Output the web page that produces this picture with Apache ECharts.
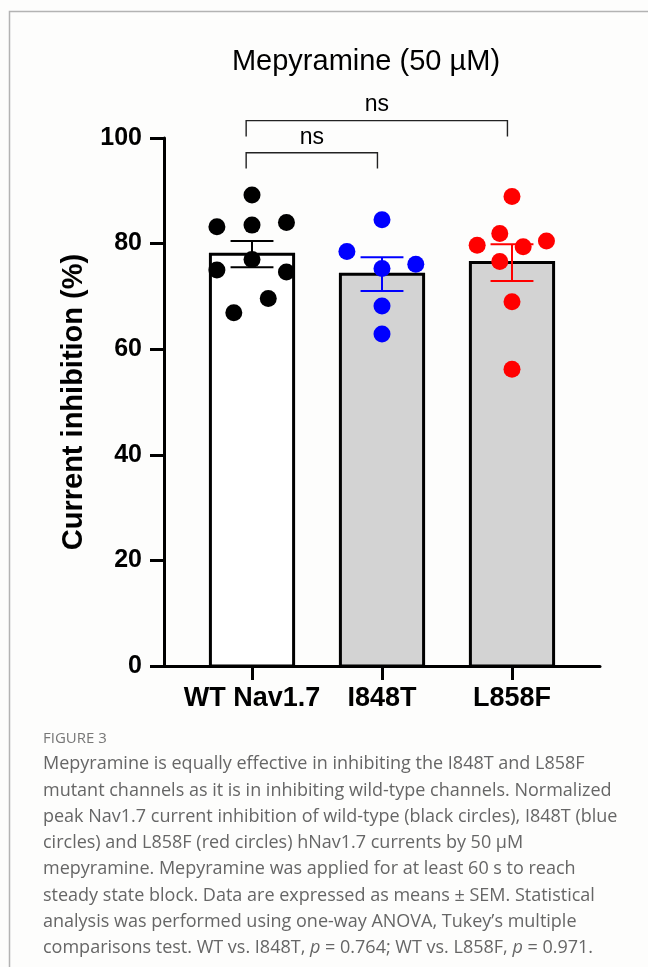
<!DOCTYPE html>
<html><head><meta charset="utf-8">
<script src="https://cdn.jsdelivr.net/npm/echarts@6/dist/echarts.min.js"></script>
<style>html,body{margin:0;padding:0;background:#fdfdfc;} #c{width:648px;height:967px;}</style>
</head><body><div id="c"></div>
<script>
// ---- data ----
const categories = ['WT Nav1.7', 'I848T', 'L858F'];
const means = [78.0, 74.2, 76.4];
const sems = [2.5, 3.2, 3.5];
const wtValues = [89.2, 83.2, 83.5, 84.0, 75.0, 77.0, 74.6, 66.9, 69.6];
const wtJitter = [0, -0.27, 0, 0.265, -0.27, 0, 0.265, -0.14, 0.125];
const i848tValues = [84.5, 78.5, 76.1, 75.3, 68.2, 62.9];
const i848tJitter = [0, -0.27, 0.26, 0, 0, 0];
const l858fValues = [88.9, 81.9, 79.7, 79.4, 80.5, 76.6, 69.0, 56.2];
const l858fJitter = [0, -0.094, -0.268, 0.086, 0.265, -0.094, 0, 0];
const yTicks = [0, 20, 40, 60, 80, 100];
const comparisons = [[0, 2], [0, 1]];
const comparisonLabels = ['ns', 'ns'];
const bracketLevels = [103.3, 97.2];
const titleText = 'Mepyramine (50 µM)';
const yAxisTitle = 'Current inhibition (%)';
const figureLabel = 'FIGURE 3';
const captionLines = [
  'Mepyramine is equally effective in inhibiting the I848T and L858F',
  'mutant channels as it is in inhibiting wild-type channels. Normalized',
  'peak Nav1.7 current inhibition of wild-type (black circles), I848T (blue',
  'circles) and L858F (red circles) hNav1.7 currents by 50 µM',
  'mepyramine. Mepyramine was applied for at least 60 s to reach',
  'steady state block. Data are expressed as means ± SEM. Statistical',
  'analysis was performed using one-way ANOVA, Tukey\u2019s multiple',
  'comparisons test. WT vs. I848T, {i|p} = 0.764; WT vs. L858F, {i|p} = 0.971.'
];

// ---- styles ----
const groupColors = ['#000000', '#0000ff', '#ff0000'];
const barFills = ['#ffffff', '#d3d3d3', '#d3d3d3'];
const FONT = 'Liberation Sans, Arial, Helvetica, sans-serif';
const CAPFONT = '"Open Sans", Lato, sans-serif';

const chart = echarts.init(document.getElementById('c'), null, {renderer: 'canvas'});

function scatterData(vals, jit, idx) {
  return vals.map((v, k) => [idx + jit[k], v]);
}

const option = {
  animation: false,
  backgroundColor: '#fdfdfc',
  title: {
    text: titleText, left: 361, top: 42, textAlign: 'center',
    textStyle: {fontFamily: FONT, fontSize: 29, fontWeight: 'normal', color: '#000'}
  },
  grid: {left: 164, right: 48, top: 138, bottom: 301, outerBoundsMode: 'none', containLabel: false},
  xAxis: {
    type: 'value', min: -0.677, max: 2.677,
    splitLine: {show: false},
    axisLine: {show: true, onZero: false, lineStyle: {color: '#000', width: 3}},
    axisTick: {show: true, customValues: [0, 1, 2], length: 14, lineStyle: {color: '#000', width: 3}},
    axisLabel: {
      show: true, customValues: [0, 1, 2], margin: 19,
      formatter: v => categories[Math.round(v)],
      fontFamily: FONT, fontSize: 27, fontWeight: 'bold', color: '#000'
    }
  },
  yAxis: {
    type: 'value', min: 0, max: 100, interval: 20,
    name: yAxisTitle, nameLocation: 'middle', nameRotate: 90, nameGap: 76,
    nameTextStyle: {fontFamily: FONT, fontSize: 29, fontWeight: 'bold', color: '#000'},
    splitLine: {show: false},
    axisLine: {show: true, onZero: false, lineStyle: {color: '#000', width: 3}},
    axisTick: {show: true, length: 14, lineStyle: {color: '#000', width: 3}},
    axisLabel: {
      margin: 22, fontFamily: FONT, fontSize: 25, fontWeight: 'bold', color: '#000',
      formatter: v => (yTicks.indexOf(v) >= 0 ? String(v) : '')
    }
  },
  series: [
    {
      type: 'custom', z: 1, clip: false,
      data: means.map((m, i) => [i, m]),
      renderItem(params, api) {
        const x = api.value(0), y = api.value(1);
        const p0 = api.coord([x - 0.32, y]);
        const p1 = api.coord([x + 0.32, 0]);
        return {
          type: 'rect',
          shape: {x: p0[0], y: p0[1], width: p1[0] - p0[0], height: p1[1] - p0[1]},
          style: {fill: barFills[params.dataIndex], stroke: '#000', lineWidth: 3}
        };
      }
    },
    {type: 'scatter', z: 3, symbol: 'circle', symbolSize: 17, data: scatterData(wtValues, wtJitter, 0), itemStyle: {color: groupColors[0], opacity: 1}},
    {type: 'scatter', z: 3, symbol: 'circle', symbolSize: 17, data: scatterData(i848tValues, i848tJitter, 1), itemStyle: {color: groupColors[1], opacity: 1}},
    {type: 'scatter', z: 3, symbol: 'circle', symbolSize: 17, data: scatterData(l858fValues, l858fJitter, 2), itemStyle: {color: groupColors[2], opacity: 1}},
    {
      type: 'custom', z: 4, clip: false,
      data: means.map((m, i) => [i, m, sems[i]]),
      renderItem(params, api) {
        const x = api.value(0), m = api.value(1), s = api.value(2);
        const top = api.coord([x, m + s]), bot = api.coord([x, m - s]);
        const hw = api.size([0.165, 0])[0];
        const st = {stroke: groupColors[params.dataIndex], lineWidth: 2};
        return {type: 'group', children: [
          {type: 'line', shape: {x1: top[0], y1: top[1], x2: bot[0], y2: bot[1]}, style: st},
          {type: 'line', shape: {x1: top[0] - hw, y1: top[1], x2: top[0] + hw, y2: top[1]}, style: st},
          {type: 'line', shape: {x1: bot[0] - hw, y1: bot[1], x2: bot[0] + hw, y2: bot[1]}, style: st}
        ]};
      }
    },
    {
      type: 'custom', z: 5, clip: false,
      data: comparisons.map((c, i) => [c[0], c[1], bracketLevels[i]]),
      renderItem(params, api) {
        const a = api.value(0) - 0.045, b = api.value(1) - 0.035, lvl = api.value(2);
        const pa = api.coord([a, lvl]), pb = api.coord([b, lvl]);
        const drop = api.size([0, 3.0])[1];
        return {type: 'group', children: [
          {type: 'polyline', shape: {points: [[pa[0], pa[1] + drop], [pa[0], pa[1]], [pb[0], pb[1]], [pb[0], pb[1] + drop]]},
           style: {stroke: '#222', lineWidth: 1.4, fill: null}},
          {type: 'text', x: (pa[0] + pb[0]) / 2, y: pa[1] - 4,
           style: {text: comparisonLabels[params.dataIndex], textAlign: 'center', textVerticalAlign: 'bottom',
                   font: '23px ' + FONT, fill: '#000'}}
        ]};
      }
    }
  ],
  graphic: [
    {type: 'polyline', silent: true, shape: {points: [[9.5, 967], [9.5, 11.5], [648, 11.5]]},
     style: {stroke: '#b3b3b3', lineWidth: 1.5, fill: null}},
    {type: 'text', left: 43, top: 731, style: {text: figureLabel, font: '15px ' + CAPFONT, fill: '#777777'}},
    {type: 'text', left: 43, top: 751, style: {
      text: captionLines.join('\n'), fontFamily: 'Open Sans', fontSize: 18, lineHeight: 26.3, fill: '#666666',
      rich: {i: {fontStyle: 'italic', fontFamily: 'Open Sans', fontSize: 18, lineHeight: 26.3, fill: '#666666'}}
    }}
  ]
};
chart.setOption(option);
</script>
</body></html>
